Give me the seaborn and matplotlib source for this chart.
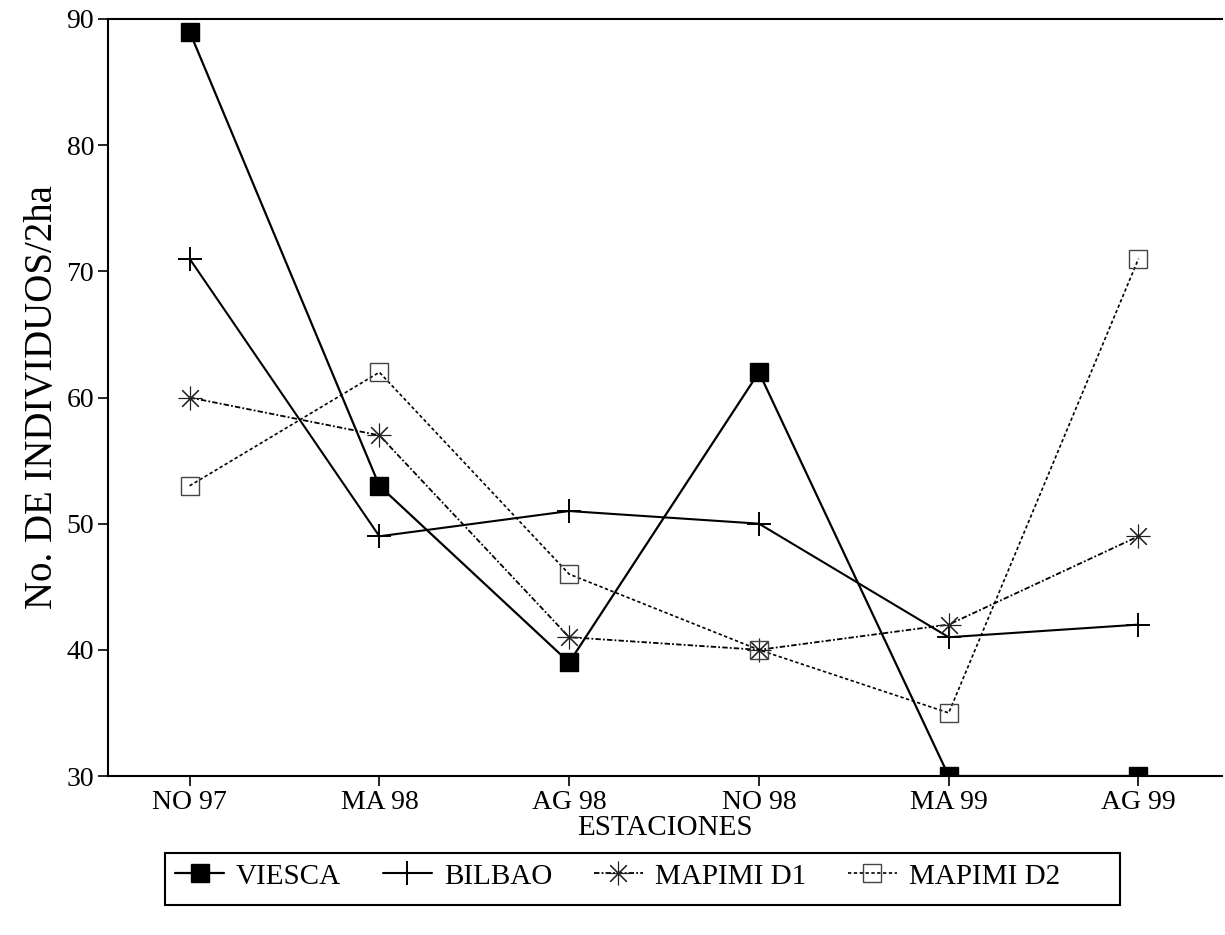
import matplotlib
matplotlib.use("Agg")
import matplotlib.pyplot as plt
from matplotlib.patches import Rectangle
import seaborn as sns

# Seasonal sampling stations and individuals counted per 2 ha
estaciones = ["NO 97", "MA 98", "AG 98", "NO 98", "MA 99", "AG 99"]
viesca = [89, 53, 39, 62, 30, 30]
bilbao = [71, 49, 51, 50, 41, 42]
mapimi_d1 = [60, 57, 41, 40, 42, 49]
mapimi_d2 = [53, 62, 46, 40, 35, 71]
nombres = ["VIESCA", "BILBAO", "MAPIMI D1", "MAPIMI D2"]
y_ticks = [30, 40, 50, 60, 70, 80, 90]

sns.set_theme(style="ticks")
plt.rcParams["font.family"] = ["Liberation Serif", "DejaVu Serif"]
plt.rcParams["axes.linewidth"] = 1.5
plt.rcParams["text.color"] = "black"
plt.rcParams["axes.labelcolor"] = "black"

W, H = 1225, 935
fig = plt.figure(figsize=(W / 100, H / 100), dpi=100)
ax = fig.add_axes([108 / W, 1 - 776 / H, (1222 - 108) / W, (776 - 19) / H])

estilos = [
    dict(marker="s", markersize=13, markerfacecolor="black",
         markeredgecolor="black", markeredgewidth=1.0,
         linestyle="-", linewidth=1.6),
    dict(marker="+", markersize=17, markeredgecolor="black",
         markeredgewidth=1.4, linestyle="-", linewidth=1.5),
    dict(marker=(8, 2, 0), markersize=17, markeredgecolor="#222222",
         markeredgewidth=0.8, linestyle=(0, (3, 1.2, 1, 1.2)), linewidth=1.3),
    dict(marker="s", markersize=13, markerfacecolor="none",
         markeredgecolor="#444444", markeredgewidth=1.0,
         linestyle=(0, (2, 1.5)), linewidth=1.2),
]

for nombre, valores, kw in zip(nombres, [viesca, bilbao, mapimi_d1, mapimi_d2], estilos):
    sns.lineplot(x=estaciones, y=valores, ax=ax, color="black", sort=False,
                 label=nombre, **kw)

ax.set_xlim(-0.43, 5.44)
ax.set_ylim(30, 90)
ax.set_yticks(y_ticks)
ax.tick_params(axis="both", direction="out", length=7, width=1.2,
               labelsize=20, colors="black", pad=3)
for s in ["left", "bottom", "top"]:
    ax.spines[s].set_color("black")
ax.spines["right"].set_visible(False)

ax.set_xlabel("ESTACIONES", fontsize=21, labelpad=0)
ax.set_ylabel("No. DE INDIVIDUOS/2ha", fontsize=28, labelpad=4)

handles, labels = ax.get_legend_handles_labels()
ax.get_legend().remove()
leg = fig.legend(handles, labels, ncol=4, loc="upper center",
                 bbox_to_anchor=(0.504, 1 - 853 / H), fontsize=21,
                 frameon=False, handlelength=1.7, handletextpad=0.4,
                 columnspacing=1.42, borderpad=0.35, borderaxespad=0)

# legend box
fig.patches.append(Rectangle((165 / W, 1 - 905 / H), (1120 - 165) / W, 52 / H,
                             transform=fig.transFigure, fill=False,
                             edgecolor="black", linewidth=1.5))

fig.savefig("out.png", dpi=100, facecolor="white")
